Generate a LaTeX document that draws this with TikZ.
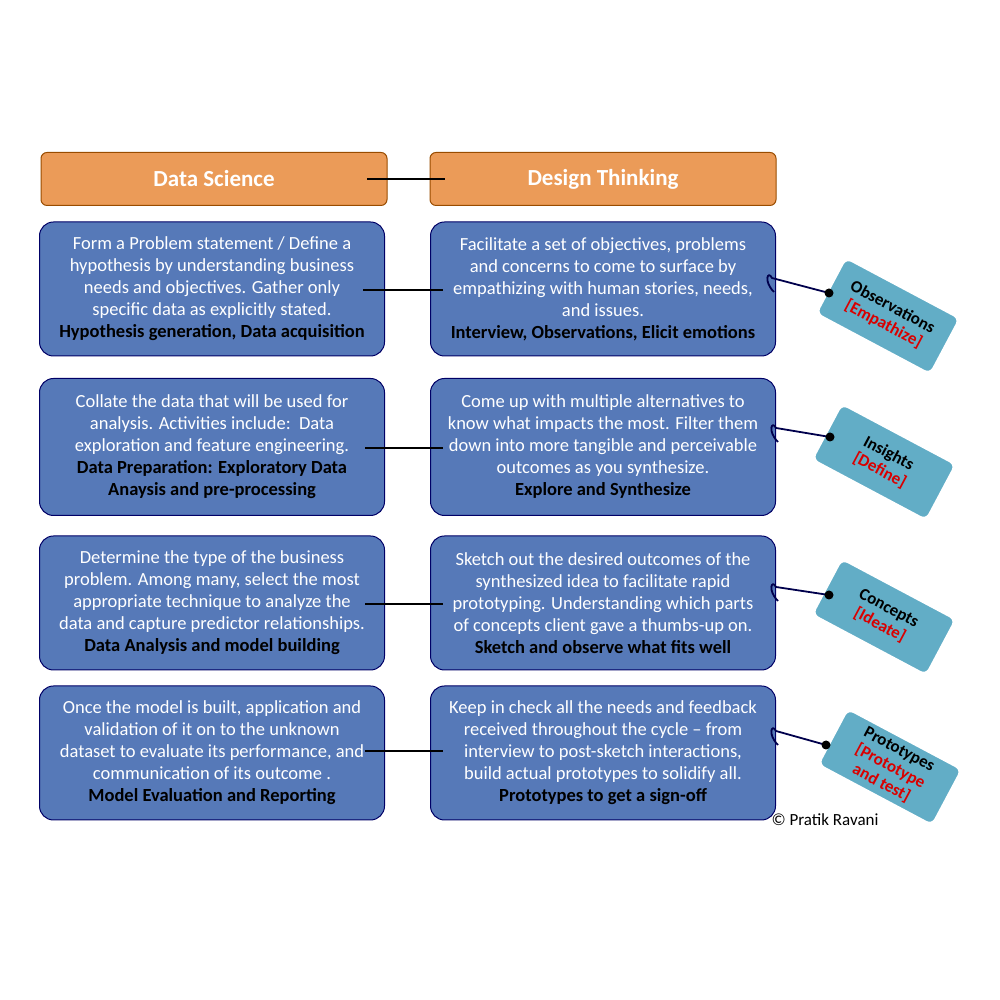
\documentclass[tikz,border=0pt]{standalone}
\usepackage{fontspec}
\setmainfont{Carlito}
\begin{document}
\begin{tikzpicture}[x=1pt,y=1pt,
 hdr/.style={draw=orange!60!black,rounded corners=6pt,minimum width=346pt,minimum height=53pt,text=white,font=\fontsize{23}{26}\selectfont\bfseries,line width=1pt},
 box/.style={draw=blue!40!black,rounded corners=14pt,minimum width=345pt,line width=1pt,text=white,align=center,font=\fontsize{18.5}{22}\selectfont,inner sep=1pt},
 tag/.style={draw=white,line width=3pt,rounded corners=7pt,minimum width=130pt,minimum height=64pt,align=center,font=\fontsize{17}{19}\selectfont\bfseries,rotate=-28,inner sep=1pt},
 lnk/.style={line width=1.5pt},
 str/.style={line width=1.8pt,draw=blue!30!black}]
\definecolor{bx}{HTML}{5679B8}
\definecolor{tg}{HTML}{62ADC6}
\definecolor{hd}{HTML}{EB9B58}
\useasboundingbox (0,0) rectangle (1000,1000);
\node[hdr,fill=hd] (ds) at (214,821) {Data Science};
\node[hdr,fill=hd] (dt) at (603,821) {Design Thinking};
\draw[lnk] (ds.center)++(153,0) coordinate (a0) -- ++(78,0) coordinate (b0);
\def\bl#1{\\\textcolor{black}{\bfseries #1}}
\node[box,fill=bx,minimum height=134pt] (l1) at (212,711) {Form a Problem statement / Define a\\hypothesis by understanding business\\needs and objectives. Gather only\\specific data as explicitly stated.\bl{Hypothesis generation, Data acquisition}};
\node[box,fill=bx,minimum height=134pt] (r1) at (603,711) {Facilitate a set of objectives, problems\\and concerns to come to surface by\\empathizing with human stories, needs,\\and issues.\bl{Interview, Observations, Elicit emotions}};
\node[box,fill=bx,minimum height=137pt] (l2) at (212,553) {Collate the data that will be used for\\analysis. Activities include:\ \ Data\\exploration and feature engineering.\bl{Data Preparation: Exploratory Data}\\\textcolor{black}{\bfseries Anaysis and pre-processing}};
\node[box,fill=bx,minimum height=137pt] (r2) at (603,553) {Come up with multiple alternatives to\\know what impacts the most. Filter them\\down into more tangible and perceivable\\outcomes as you synthesize.\bl{Explore and Synthesize}};
\node[box,fill=bx,minimum height=134pt] (l3) at (212,397) {Determine the type of the business\\problem. Among many, select the most\\appropriate technique to analyze the\\data and capture predictor relationships.\bl{Data Analysis and model building}};
\node[box,fill=bx,minimum height=134pt] (r3) at (603,397) {Sketch out the desired outcomes of the\\synthesized idea to facilitate rapid\\prototyping. Understanding which parts\\of concepts client gave a thumbs-up on.\bl{Sketch and observe what fits well}};
\node[box,fill=bx,minimum height=134pt] (l4) at (212,247) {Once the model is built, application and\\validation of it on to the unknown\\dataset to evaluate its performance, and\\communication of its outcome .\bl{Model Evaluation and Reporting}};
\node[box,fill=bx,minimum height=134pt] (r4) at (603,247) {Keep in check all the needs and feedback\\received throughout the cycle -- from\\interview to post-sketch interactions,\\build actual prototypes to solidify all.\bl{Prototypes to get a sign-off}};
\draw[lnk] (363,710) coordinate (a1) -- (443,710) coordinate (b1);
\draw[lnk] (365,552) coordinate (a2) -- (443,552) coordinate (b2);
\draw[lnk] (365,396) coordinate (a3) -- (443,396) coordinate (b3);
\draw[lnk] (365,249) coordinate (a4) -- (443,249) coordinate (b4);
\node[tag,fill=tg] (t1) at (888,684) {Observations\\\textcolor{red!85!black}{[Empathize]}};
\node[tag,fill=tg] (t2) at (884,538) {Insights\\\textcolor{red!85!black}{[Define]}};
\node[tag,fill=tg] (t3) at (884,383) {Concepts\\\textcolor{red!85!black}{[Ideate]}};
\node[tag,fill=tg] (t4) at (890,233) {Prototypes\\\textcolor{red!85!black}{[Prototype}\\\textcolor{red!85!black}{and test]}};
\foreach \i/\sx/\sy/\dx/\dy in {1/772/722/829/707, 2/776/572/830/563, 3/776/413/829/405, 4/776/269/826/255}{
 \coordinate (h\i) at (\sx,\sy);
 \coordinate (d\i) at (\dx,\dy);
 \draw[str] (\sx+2,\sy-14) .. controls (\sx-9,\sy-3) and (\sx-4,\sy+8) .. (h\i) -- (d\i);
 \fill (d\i) circle (4.5pt);
}
\node[font=\fontsize{17}{18}\selectfont,anchor=west] (cp) at (768,180) {© Pratik Ravani};
\end{tikzpicture}
\end{document}
